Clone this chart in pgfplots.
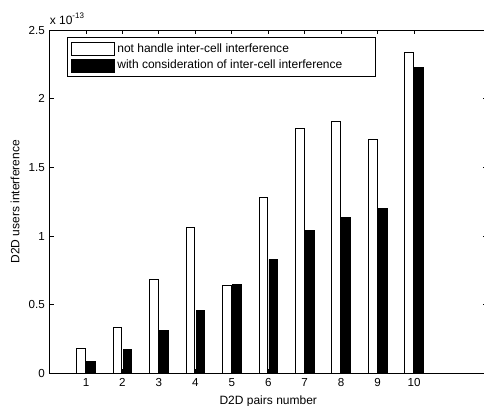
\documentclass[border=0pt]{standalone}
\usepackage{fontspec}
\setmainfont{Liberation Sans}
\usepackage{pgfplots}
\pgfplotsset{compat=1.18}

\pgfplotstableread{
x  nohandle  consider
1  0.180     0.085
2  0.335     0.177
3  0.683     0.313
4  1.066     0.457
5  0.639     0.646
6  1.285     0.829
7  1.786     1.040
8  1.834     1.135
9  1.705     1.203
10 2.334     2.228
}\interf

\begin{document}
\begin{tikzpicture}
\begin{axis}[
    scale only axis,
    width=327.75pt, height=257.25pt,
    xmin=0, xmax=12, ymin=0, ymax=2.5,
    xtick={1,...,10},
    ytick={0,0.5,1,1.5,2,2.5},
    yticklabels={0,0.5,1,1.5,2,2.5},
    tick align=inside,
    major tick length=3pt,
    axis line style={line width=0.6pt},
    every tick/.style={black, line width=0.6pt},
    font=\fontsize{9}{11}\selectfont,
    tick label style={font=\fontsize{8.7}{11}\selectfont},
    /pgf/number format/assume math mode=true,
    xlabel={D2D pairs number},
    ylabel={D2D users interference},
    legend cell align=left,
    legend image code/.code={\draw[#1, line width=0.6pt] (0pt,-4.8pt) rectangle (32pt,4.8pt);},
    legend style={at={(rel axis cs:0.0394,0.979)}, anchor=north west,
        draw=black, line width=0.6pt, fill=white,
        font=\fontsize{9}{11}\selectfont,
        inner xsep=3pt, inner ysep=2.4pt, row sep=0.5pt},
]
\addplot[ybar, bar width=0.236, bar shift=-0.137, fill=white, draw=black, line width=0.6pt]
    table[x=x, y=nohandle] {\interf};
\addlegendentry{\makebox[188pt][l]{not handle inter-cell interference}}
\addplot[ybar, bar width=0.236, bar shift=0.137, fill=black, draw=black, line width=0.6pt]
    table[x=x, y=consider] {\interf};
\addlegendentry{\makebox[188pt][l]{with consideration of inter-cell interference}}
\coordinate (sw) at (rel axis cs:0,0);
\coordinate (ne) at (rel axis cs:1,1);
\coordinate (nw) at (rel axis cs:0,1);
\end{axis}
\node[anchor=base west, inner sep=0pt, font=\fontsize{9}{11}\selectfont]
    at ([yshift=4.5pt]nw) {x 10\textsuperscript{-13}};
\pgfresetboundingbox
\path[use as bounding box] ([xshift=-37.1pt,yshift=-24pt]sw) rectangle ([xshift=-2.25pt,yshift=22.5pt]ne);
\end{tikzpicture}
\end{document}
